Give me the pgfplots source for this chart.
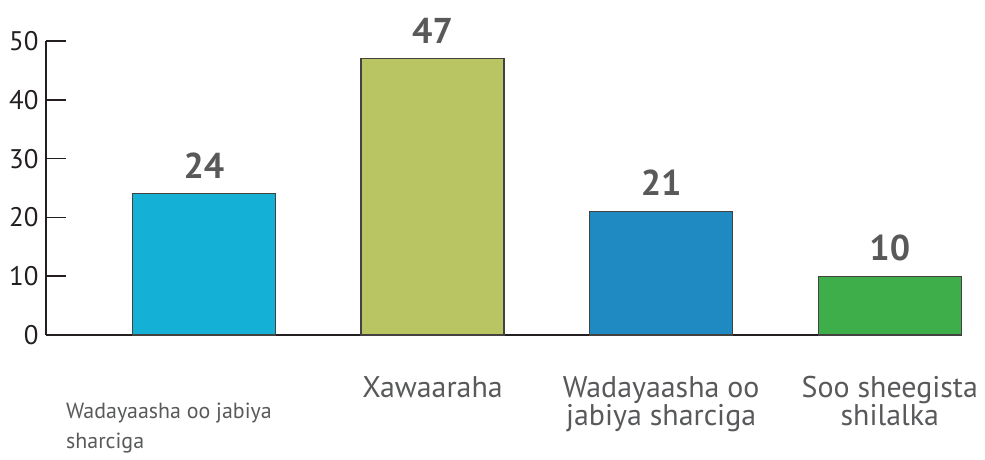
\documentclass[border=0pt]{standalone}
\usepackage{fontspec}
\setmainfont{PT Sans}
\usepackage{pgfplots}
\pgfplotsset{compat=1.18}
\definecolor{cA}{HTML}{14B0D5}
\definecolor{cB}{HTML}{B9C462}
\definecolor{cC}{HTML}{1F8AC1}
\definecolor{cD}{HTML}{3DAE4A}
\definecolor{valgray}{HTML}{595959}
\definecolor{labgray}{HTML}{58595B}
\definecolor{axisc}{HTML}{231F20}
\begin{document}
\begin{tikzpicture}[x=1bp,y=1bp]
\useasboundingbox (0,0) rectangle (985,460);
\begin{axis}[
  at={(46bp,125bp)}, anchor=south west,
  scale only axis, width=916bp, height=294bp,
  xmin=-0.691, xmax=3.316, ymin=0, ymax=50,
  axis x line=bottom, axis y line=left,
  axis line style={-, line width=1.6bp, color=axisc},
  ytick={0,10,20,30,40,50},
  tick align=inside, major tick length=20bp,
  ytick style={line width=1.6bp, color=axisc},
  /pgf/number format/assume math mode=true,
  yticklabel style={font=\fontsize{27}{27}\selectfont, color=axisc, xshift=-4bp},
  xtick={0,1,2,3},
  xticklabels={{},Xawaaraha,{Wadayaasha oo\\jabiya sharciga},{Soo sheegista\\shilalka}},
  xtick style={draw=none},
  xticklabel style={align=center, font=\fontsize{30}{28}\selectfont, color=labgray, anchor=north, yshift=-18bp},
  ybar, bar width=143bp, bar shift=0pt,
  nodes near coords,
  nodes near coords style={font=\bfseries\fontsize{36}{36}\selectfont, color=valgray, anchor=south, inner sep=0pt, yshift=15bp},
  clip=false,
]
\addplot[fill=cA, draw=axisc!85, line width=1.2bp] coordinates {(0,24)};
\addplot[fill=cB, draw=axisc!85, line width=1.2bp] coordinates {(1,47)};
\addplot[fill=cC, draw=axisc!85, line width=1.2bp] coordinates {(2,21)};
\addplot[fill=cD, draw=axisc!85, line width=1.2bp] coordinates {(3,10)};
\node[anchor=base west, align=left, inner sep=0pt, font=\fontsize{22}{31}\selectfont, text=labgray]
  at (axis cs:-0.691,0) [xshift=20bp, yshift=-114bp] {Wadayaasha oo jabiya\\sharciga};
\end{axis}
\end{tikzpicture}
\end{document}
